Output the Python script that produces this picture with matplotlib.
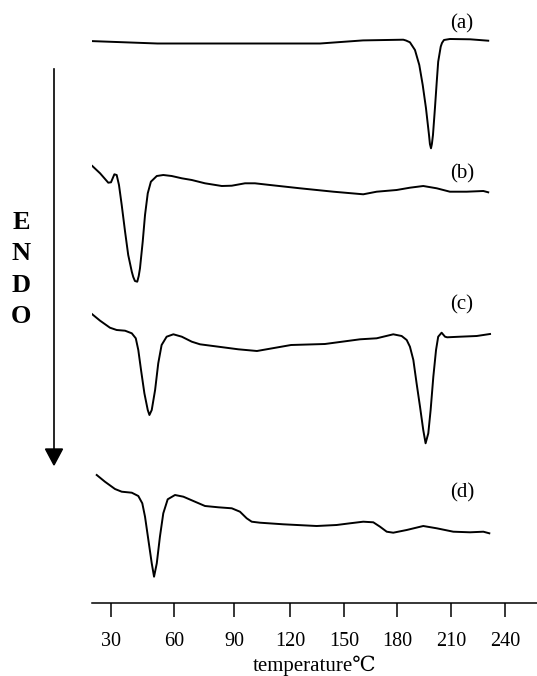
import numpy as np
import matplotlib.pyplot as plt
from matplotlib.lines import Line2D
from matplotlib.patches import Polygon

plt.rcParams['font.family'] = ['Liberation Serif', 'DejaVu Serif']

# the printed temperature axis is not quite linear, so calibrate it on its ticks
scale_temp = [0, 30, 60, 90, 120, 150, 180, 210, 240, 270]
scale_pos = [48, 111, 174, 234, 290, 344, 397, 451, 505, 559]
ticks = [30, 60, 90, 120, 150, 180, 210, 240]

# DSC traces, heat flow (a.u.) relative to each baseline
temp_a = [20.9, 52.1, 93.2, 136.7, 160.8, 183.5, 185.0, 187.2, 190.0, 192.4, 194.3,
          196.1, 197.8, 198.3, 198.9, 199.4, 200.0, 201.1, 202.1, 202.9, 204.3, 205.0,
          206.1, 209.4, 220.6, 230.7]
flow_a = [-1.1, -3.5, -3.5, -3.5, -0.4, 0.3, -0.5, -2.3, -10, -25, -45,
          -68, -95, -104, -108.3, -104, -95, -68, -41.7, -21.7, -6.7, -3,
          0, 1, 0.7, -0.7]

temp_b = [21.1, 24.8, 28.7, 30.0, 31.6, 32.7, 33.8, 35.1, 36.7, 38.2, 39.9, 40.6,
          41.4, 42.5, 43.2, 43.8, 45.1, 46.2, 47.5, 49.0, 51.8, 54.9, 58.9, 63.9,
          68.9, 75.5, 83.9, 88.9, 95.9, 101.2, 109.3, 125.6, 144.1, 160.9, 168.5,
          179.8, 187.2, 194.6, 202.1, 209.4, 218.7, 228.0, 230.7]
flow_b = [19, 11.7, 2.3, 2.7, 10.7, 10, 0, -20, -46.7, -70, -86.7, -92,
          -96, -96.7, -91, -83.3, -56.7, -30, -8.3, 3.3, 9, 10, 9, 6.7,
          5, 1.7, -1, -0.7, 1.7, 1.7, 0, -3.3, -6.7, -9.3, -6.7,
          -5, -2.7, -1, -3.3, -6.7, -6.7, -6, -7.3]

temp_c = [20.5, 24.8, 29.5, 32.7, 36.7, 39.9, 41.8, 43.0, 44.3, 45.9, 47.5, 48.3,
          49.4, 51.0, 52.5, 54.1, 56.5, 59.7, 63.9, 68.9, 73.0, 82.2, 92.3, 102.3,
          120.6, 139.4, 159.1, 168.5, 177.9, 182.6, 185.4, 187.2, 189.1, 190.9,
          192.8, 194.6, 195.9, 197.4, 198.7, 200.2, 201.7, 202.9, 204.8, 206.7,
          207.9, 215.0, 224.3, 231.7]
flow_c = [24.7, 17.3, 10.3, 8, 7.3, 4.7, -0.3, -12, -32, -55.3, -72, -77,
          -72, -52, -25.3, -7, 1.3, 3.7, 1.3, -3.7, -6.3, -8.7, -11.3, -13,
          -7, -6, -1.3, -0.3, 3.7, 2, -2, -8.7, -22, -45.3,
          -68.7, -92, -105.3, -95.3, -72, -38.7, -12, 1.3, 5.3, 1.3,
          0.7, 1.3, 2, 4]

temp_d = [23.2, 27.1, 31.9, 35.1, 39.9, 43.0, 44.9, 46.2, 47.8, 49.4, 50.5, 51.8,
          53.3, 54.9, 57.0, 60.5, 64.7, 70.5, 75.5, 82.2, 88.9, 93.2, 96.8, 99.5,
          103.9, 116.4, 134.8, 145.9, 153.4, 160.9, 166.6, 170.4, 174.2, 177.9,
          185.4, 194.6, 202.1, 211.3, 220.6, 228.0, 231.3]
flow_d = [50, 43.3, 36, 33.3, 32.3, 29, 21.7, 8.3, -15, -38.3, -51.7, -38.3,
          -11.7, 11.7, 25.7, 30, 28.3, 23.3, 19, 17.7, 16.7, 13.3, 6.7, 3.3,
          2.3, 0.7, -1, 0, 1.7, 3.3, 2.7, -1.7, -6.7, -7.7,
          -5, -1, -3.3, -6.7, -7.3, -6.7, -8.3]

temps = [temp_a, temp_b, temp_c, temp_d]
flows = [flow_a, flow_b, flow_c, flow_d]
offsets = [563, 418, 265, 78]
labels = ['(a)', '(b)', '(c)', '(d)']
label_dy = [16, 11, 33, 32.5]


def forward(t):
    return np.interp(t, scale_temp, scale_pos)


def inverse(p):
    return np.interp(p, scale_pos, scale_temp)


fig = plt.figure(figsize=(5.37, 6.76), dpi=100)
ax = fig.add_axes([92 / 537, 73 / 676, 445 / 537, 603 / 676])
ax.set_xscale('function', functions=(forward, inverse))

for t, f, off, lab, dy in zip(temps, flows, offsets, labels, label_dy):
    ax.plot(t, np.array(f) + off, color='black', lw=1.4)
    ax.text(216, off + dy, lab, fontsize=15, ha='center', va='center')

ax.set_xlim(20.95, 257.8)
ax.set_ylim(0, 603)
ax.set_xticks(ticks)
ax.set_yticks([])
for side in ['top', 'right', 'left']:
    ax.spines[side].set_visible(False)
ax.spines['bottom'].set_linewidth(1.1)
ax.tick_params(axis='x', direction='out', length=10, width=1.1, pad=11, labelsize=14.5)
ax.set_xlabel('temperature℃', fontsize=15, labelpad=3,
              family=['Liberation Serif', 'DejaVu Serif', 'Noto Sans CJK SC'])
ax.patch.set_alpha(0)

# ENDO arrow on the left
fig.add_artist(Line2D([54 / 537, 54 / 537], [1 - 68.5 / 676, 1 - 450 / 676],
                      color='black', lw=1.2, transform=fig.transFigure))
fig.add_artist(Polygon([[54 / 537, 1 - 465 / 676], [45.5 / 537, 1 - 449 / 676],
                        [62.5 / 537, 1 - 449 / 676]], closed=True,
                       color='black', transform=fig.transFigure))
for i, ch in enumerate('ENDO'):
    fig.text(21 / 537, 1 - (222.5 + 31.3 * i) / 676, ch, fontsize=19,
             fontweight='bold', ha='center', va='center')

fig.savefig('out.png', dpi=100)
